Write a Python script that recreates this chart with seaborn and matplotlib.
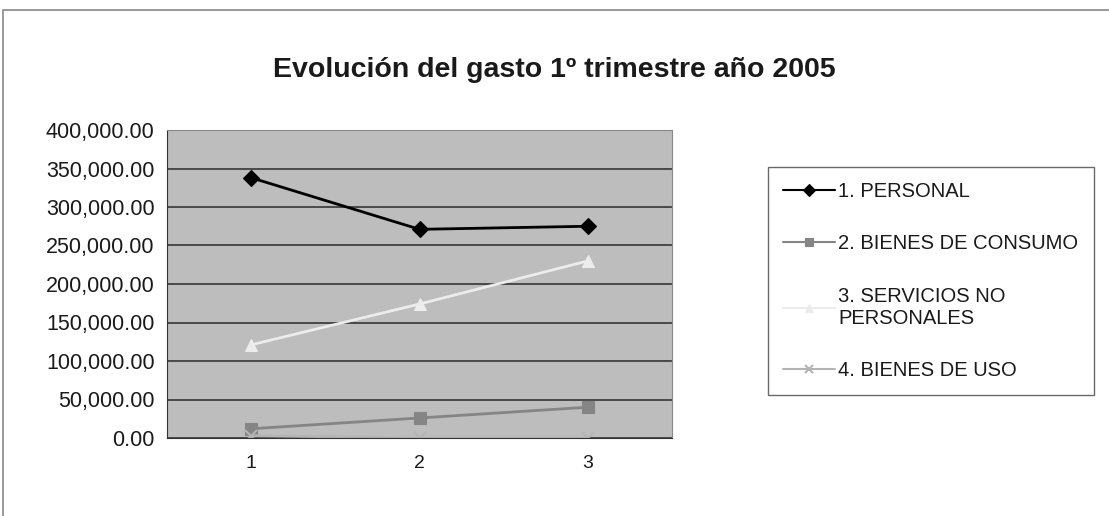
import numpy as np
import pandas as pd
import matplotlib
matplotlib.use("Agg")
import matplotlib.pyplot as plt
import matplotlib.ticker as mticker
from matplotlib.patches import Rectangle
import seaborn as sns

# Data
months = [1, 2, 3]
personal = [338000, 271000, 275000]
consumo = [12000, 26000, 40000]
servicios = [121000, 174000, 230000]
uso = [3000, 0, 0]

series_names = ["1. PERSONAL", "2. BIENES DE CONSUMO",
                "3. SERVICIOS NO\nPERSONALES", "4. BIENES DE USO"]
series_values = [personal, consumo, servicios, uso]
colors = ["#000000", "#858585", "#ececec", "#b4b4b4"]
markers = ["D", "s", "^", "x"]

sns.set_style("white")
plt.rcParams["font.family"] = ["Liberation Sans", "DejaVu Sans"]

fig = plt.figure(figsize=(11.09, 5.16), dpi=100)
ax = fig.add_axes([167 / 1109, 1 - 438 / 516, (672 - 167) / 1109, (438 - 130) / 516])
ax.set_facecolor("#bdbdbd")

for name, vals, c, m in zip(series_names, series_values, colors, markers):
    df = pd.DataFrame({"mes": months, "valor": vals})
    sns.lineplot(data=df, x="mes", y="valor", ax=ax, color=c, marker=m,
                 markersize=8 if m != "x" else 9, markeredgecolor=c,
                 markeredgewidth=1.5 if m == "x" else 0.8,
                 linewidth=2, label=name)

ax.set_xlim(0.5, 3.5)
ax.set_ylim(0, 400000)
ax.yaxis.set_major_locator(mticker.MultipleLocator(50000))
ax.yaxis.set_major_formatter(mticker.FuncFormatter(lambda v, p: f"{v:,.2f}"))
ax.set_xticks(months)
ax.set_xticks([0.5, 1.5, 2.5, 3.5], minor=True)
ax.tick_params(axis="x", which="major", length=0, pad=12, labelsize=14,
               labelcolor="#1a1a1a")
ax.tick_params(axis="x", which="minor", length=5, direction="out", color="#222222")
ax.tick_params(axis="y", which="major", length=5, direction="out", labelsize=15.5,
               color="#222222", labelcolor="#1a1a1a", pad=4)
ax.grid(axis="y", color="#2a2a2a", linewidth=1.1)
ax.set_axisbelow(True)
ax.set_xlabel("")
ax.set_ylabel("")
for side in ["left", "bottom"]:
    ax.spines[side].set_color("#333333")
for side in ["top", "right"]:
    ax.spines[side].set_color("#8a8a8a")

ax.get_legend().remove()
handles, labels = ax.get_legend_handles_labels()
leg = fig.legend(handles, labels, loc="upper left",
                 bbox_to_anchor=(768 / 1109, 1 - 167 / 516),
                 frameon=True, fancybox=False, edgecolor="#444444",
                 fontsize=14.5, labelspacing=1.65, handlelength=2.6,
                 borderpad=0.75, handletextpad=0.15, borderaxespad=0)
leg.get_frame().set_linewidth(1.0)
for t in leg.get_texts():
    t.set_color("#1a1a1a")
for h in leg.legend_handles:
    h.set_markersize(6)
    h.set_linewidth(1.5)

fig.text(0.5, 1 - 70 / 516, "Evolución del gasto 1º trimestre año 2005",
         ha="center", va="center", fontsize=20.5, fontweight="bold", color="#1a1a1a")

# outer chart frame
fig.patches.append(Rectangle((3 / 1109, -0.05), 1.2, 1 - 10 / 516 + 0.05,
                             transform=fig.transFigure, fill=False,
                             edgecolor="#888888", linewidth=1.2))

fig.savefig("out.png", dpi=100)
